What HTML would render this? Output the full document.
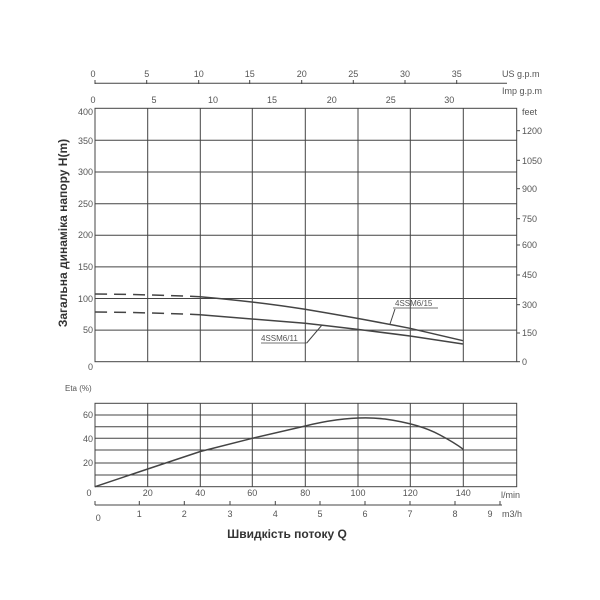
<!DOCTYPE html>
<html><head><meta charset="utf-8"><style>body{margin:0;background:#fff}svg{display:block}text{font-family:"Liberation Sans",sans-serif;fill:#555}</style></head><body>
<svg width="600" height="600" viewBox="0 0 600 600" xmlns="http://www.w3.org/2000/svg">
<g stroke="#444" stroke-width="1" fill="none">
<!-- US gpm axis -->
<line x1="95" y1="83.3" x2="507" y2="83.3"/>
<g><line x1="95" y1="80" x2="95" y2="84"/><line x1="146.7" y1="80" x2="146.7" y2="84"/><line x1="198.7" y1="80" x2="198.7" y2="84"/><line x1="249.7" y1="80" x2="249.7" y2="84"/><line x1="301.7" y1="80" x2="301.7" y2="84"/><line x1="353.3" y1="80" x2="353.3" y2="84"/><line x1="405" y1="80" x2="405" y2="84"/><line x1="456.7" y1="80" x2="456.7" y2="84"/></g>
<!-- main grid -->
<rect x="95" y="108.3" width="421.7" height="253.4"/>
<line x1="147.7" y1="108.3" x2="147.7" y2="361.7"/><line x1="200.3" y1="108.3" x2="200.3" y2="361.7"/><line x1="252.3" y1="108.3" x2="252.3" y2="361.7"/><line x1="305.3" y1="108.3" x2="305.3" y2="361.7"/><line x1="358" y1="108.3" x2="358" y2="361.7"/><line x1="410.3" y1="108.3" x2="410.3" y2="361.7"/><line x1="463.3" y1="108.3" x2="463.3" y2="361.7"/>
<line x1="95" y1="140.3" x2="516.7" y2="140.3"/><line x1="95" y1="172" x2="516.7" y2="172"/><line x1="95" y1="203.7" x2="516.7" y2="203.7"/><line x1="95" y1="235.3" x2="516.7" y2="235.3"/><line x1="95" y1="266.9" x2="516.7" y2="266.9"/><line x1="95" y1="298.5" x2="516.7" y2="298.5"/><line x1="95" y1="330.1" x2="516.7" y2="330.1"/>
<!-- right ticks -->
<g><line x1="516.7" y1="130.7" x2="520" y2="130.7"/><line x1="516.7" y1="160.3" x2="520" y2="160.3"/><line x1="516.7" y1="188.7" x2="520" y2="188.7"/><line x1="516.7" y1="218.7" x2="520" y2="218.7"/><line x1="516.7" y1="245" x2="520" y2="245"/><line x1="516.7" y1="275" x2="520" y2="275"/><line x1="516.7" y1="304.7" x2="520" y2="304.7"/><line x1="516.7" y1="333" x2="520" y2="333"/><line x1="516.7" y1="361.7" x2="520" y2="361.7"/></g>
<!-- curves -->
<path d="M95 294 Q150 294.5 200 296.7" stroke-dasharray="12,7" stroke-width="1.5"/>
<path d="M200 296.7 Q260 302 305 309.3 Q360 318.5 410 328.3 L463 340.7" stroke-width="1.5"/>
<path d="M95 312 Q150 312.5 200 314.7" stroke-dasharray="12,7" stroke-width="1.5"/>
<path d="M200 314.7 L305 323.3 Q360 329.5 410 336 L463 344" stroke-width="1.5"/>
<line x1="393" y1="308" x2="438" y2="308" stroke-width="0.8"/><line x1="395" y1="309" x2="390" y2="324"/>
<line x1="261" y1="343" x2="306.7" y2="343" stroke-width="0.8"/><line x1="306.7" y1="343" x2="322" y2="325"/>
<!-- efficiency grid -->
<rect x="95" y="403.3" width="421.7" height="83.4"/>
<line x1="147.7" y1="403.3" x2="147.7" y2="486.7"/><line x1="200.3" y1="403.3" x2="200.3" y2="486.7"/><line x1="252.3" y1="403.3" x2="252.3" y2="486.7"/><line x1="305.3" y1="403.3" x2="305.3" y2="486.7"/><line x1="358" y1="403.3" x2="358" y2="486.7"/><line x1="410.3" y1="403.3" x2="410.3" y2="486.7"/><line x1="463.3" y1="403.3" x2="463.3" y2="486.7"/>
<line x1="95" y1="415" x2="516.7" y2="415"/><line x1="95" y1="426.7" x2="516.7" y2="426.7"/><line x1="95" y1="438.3" x2="516.7" y2="438.3"/><line x1="95" y1="450" x2="516.7" y2="450"/><line x1="95" y1="463" x2="516.7" y2="463"/><line x1="95" y1="475" x2="516.7" y2="475"/>
<path d="M95 486.7 L147.7 469 L200.3 451.5 L252.3 438.3 L305.3 426 Q350 415 385 419 Q420 424 440 435 Q455 443 463.3 449.3" stroke-width="1.5"/>
<!-- m3/h axis -->
<line x1="95" y1="505" x2="502" y2="505"/>
<g><line x1="95" y1="501" x2="95" y2="505"/><line x1="139.3" y1="501" x2="139.3" y2="505"/><line x1="184.3" y1="501" x2="184.3" y2="505"/><line x1="230" y1="501" x2="230" y2="505"/><line x1="275.3" y1="501" x2="275.3" y2="505"/><line x1="320" y1="501" x2="320" y2="505"/><line x1="365" y1="501" x2="365" y2="505"/><line x1="410" y1="501" x2="410" y2="505"/><line x1="455" y1="501" x2="455" y2="505"/><line x1="500" y1="501" x2="500" y2="505"/></g>
</g>
<g font-size="9" text-anchor="middle">
<text x="93" y="77">0</text><text x="146.7" y="77">5</text><text x="198.7" y="77">10</text><text x="249.7" y="77">15</text><text x="301.7" y="77">20</text><text x="353.3" y="77">25</text><text x="405" y="77">30</text><text x="456.7" y="77">35</text>
<text x="93" y="103">0</text><text x="154" y="103">5</text><text x="213" y="103">10</text><text x="272" y="103">15</text><text x="331.7" y="103">20</text><text x="390.7" y="103">25</text><text x="449.3" y="103">30</text>
</g>
<text x="502" y="77" font-size="9">US g.p.m</text>
<text x="502" y="94" font-size="9">Imp g.p.m</text>
<g font-size="9" text-anchor="end">
<text x="93" y="115">400</text><text x="93" y="144">350</text><text x="93" y="175">300</text><text x="93" y="207">250</text><text x="93" y="238">200</text><text x="93" y="270">150</text><text x="93" y="302">100</text><text x="93" y="333">50</text><text x="93" y="370">0</text>
</g>
<g font-size="9">
<text x="522" y="115">feet</text><text x="522" y="134">1200</text><text x="522" y="164">1050</text><text x="522" y="192">900</text><text x="522" y="222">750</text><text x="522" y="248">600</text><text x="522" y="278">450</text><text x="522" y="308">300</text><text x="522" y="336">150</text><text x="522" y="365">0</text>
</g>
<text x="395" y="306" font-size="8">4SSM6/15</text>
<text x="261" y="341" font-size="8">4SSM6/11</text>
<text transform="translate(67,233) rotate(-90)" font-size="12" font-weight="bold" text-anchor="middle" style="fill:#333">Загальна динаміка напору H(m)</text>
<text x="65" y="391" font-size="8">Eta (%)</text>
<g font-size="9" text-anchor="end"><text x="93" y="418">60</text><text x="93" y="442">40</text><text x="93" y="466">20</text></g>
<g font-size="9" text-anchor="middle">
<text x="89" y="496">0</text><text x="147.7" y="496">20</text><text x="200.3" y="496">40</text><text x="252.3" y="496">60</text><text x="305.3" y="496">80</text><text x="358" y="496">100</text><text x="410.3" y="496">120</text><text x="463.3" y="496">140</text>
<text x="98.3" y="521">0</text><text x="139.3" y="517">1</text><text x="184.3" y="517">2</text><text x="230" y="517">3</text><text x="275.3" y="517">4</text><text x="320" y="517">5</text><text x="365" y="517">6</text><text x="410" y="517">7</text><text x="455" y="517">8</text><text x="490" y="517">9</text>
</g>
<text x="501" y="498" font-size="9">l/min</text>
<text x="502" y="517" font-size="9">m3/h</text>
<text x="287" y="538" font-size="12" font-weight="bold" text-anchor="middle" style="fill:#333">Швидкість потоку Q</text>
</svg>
</body></html>
